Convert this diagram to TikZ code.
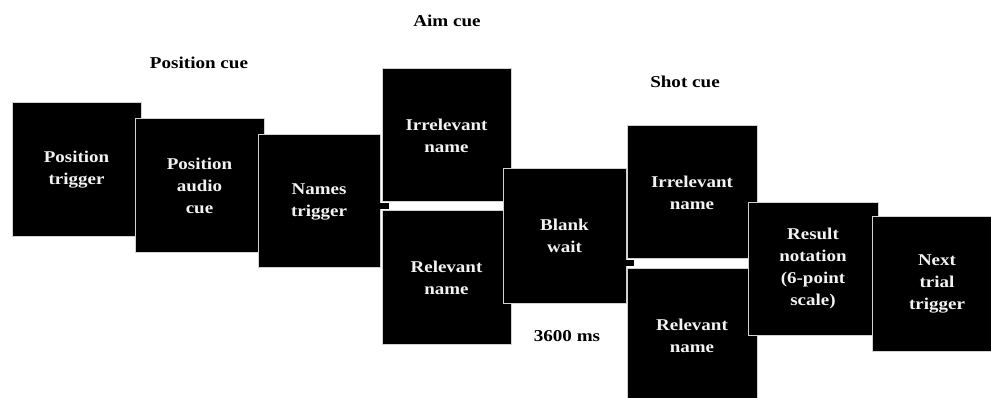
\documentclass[tikz,border=0pt]{standalone}
\usepackage{fontspec}
\setmainfont{Liberation Serif}[FakeStretch=1.15]
\begin{document}
\begin{tikzpicture}[x=1pt,y=-1pt,
  scr/.style={fill=black, draw=black!18, line width=1pt, text=white!95!black,
    font=\bfseries\fontsize{16.5pt}{22pt}\selectfont, align=center, inner sep=0pt},
  lbl/.style={font=\bfseries\fontsize{16.6pt}{20pt}\selectfont, text=black, inner sep=0pt},
  tabfill/.style={fill=black}]
\useasboundingbox (0,0) rectangle (991,398);
\clip (0,0) rectangle (991,398);
% position cue
\node[scr, minimum width=129pt, minimum height=134pt] (pt) at (76.5,170) {Position\\trigger};
\node[scr, minimum width=129pt, minimum height=134pt] (pac) at (199.5,186) {Position\\audio\\cue};
\node[scr, minimum width=122pt, minimum height=133pt] (nt) at (319,201.5) {Names\\trigger};
\fill[tabfill] ([xshift=-4pt,yshift=-2pt]nt.east) rectangle ([xshift=8pt,yshift=-8pt]nt.east);
% aim cue
\node[scr, minimum width=129pt, minimum height=133pt] (ai) at (446.5,135.5) {Irrelevant\\name};
\node[scr, minimum width=129pt, minimum height=133pt] (ar) at (446.5,277.5) {Relevant\\name};
\node[scr, minimum width=123pt, minimum height=134pt] (bw) at (564.5,236) {Blank\\wait};
\fill[tabfill] ([xshift=-4pt,yshift=-24pt]bw.east) rectangle ([xshift=7pt,yshift=-30pt]bw.east);
% shot cue
\node[scr, minimum width=130pt, minimum height=133pt] (si) at (692,192.5) {Irrelevant\\name};
\node[scr, minimum width=130pt, minimum height=133pt] (sr) at (692,335.5) {Relevant\\name};
\node[scr, minimum width=130pt, minimum height=132pt] (rn) at (813,269) {Result\\notation\\(6-point\\scale)};
\node[scr, minimum width=130pt, minimum height=134pt] (nx) at (937,284) {Next\\trial\\trigger};
% labels
\node[lbl] (laim) at (447,21) {Aim cue};
\node[lbl] (lpos) at (199,63) {Position cue};
\node[lbl] (lshot) at (685,82) {Shot cue};
\node[lbl] (lms) at (567,336) {3600 ms};
\end{tikzpicture}
\end{document}
